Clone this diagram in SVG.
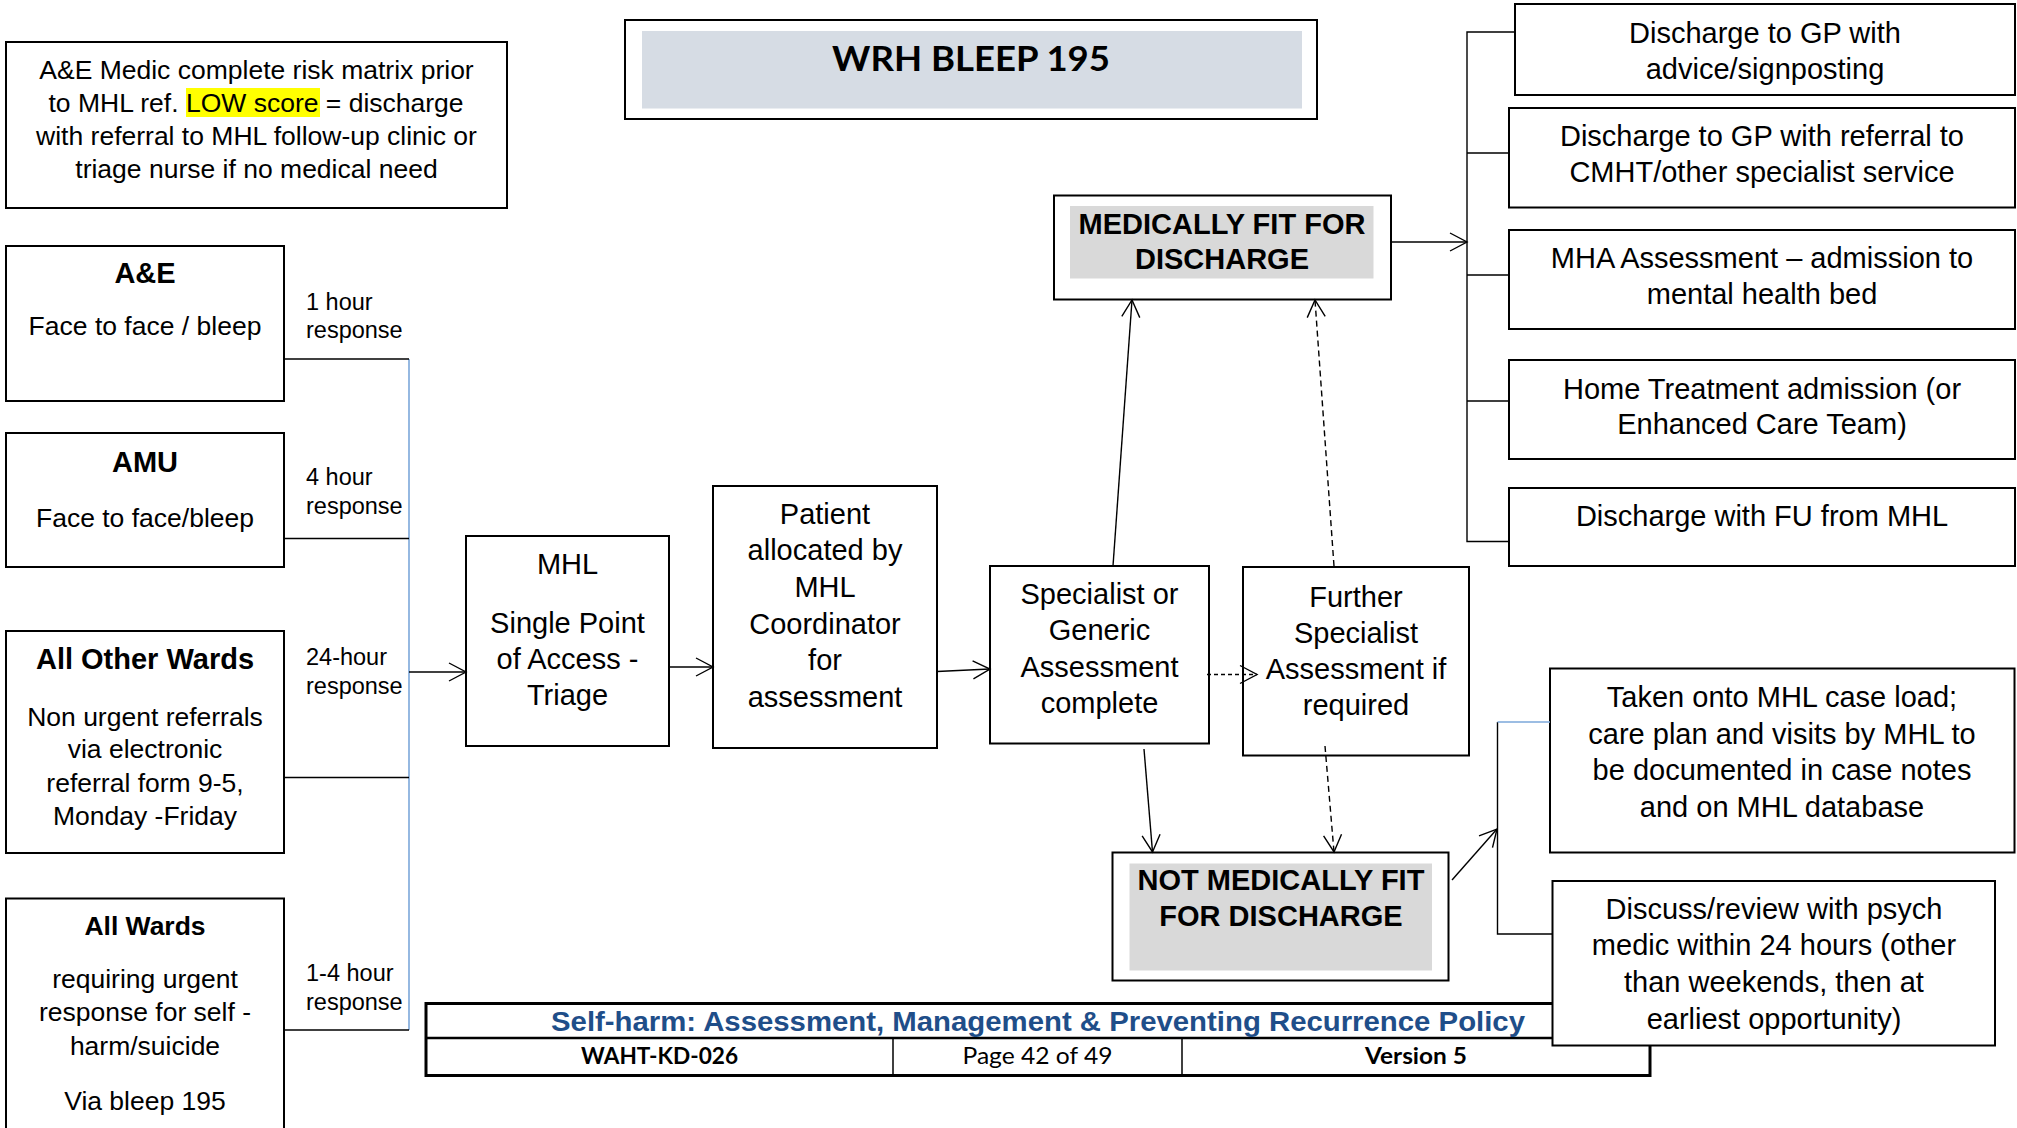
<svg xmlns="http://www.w3.org/2000/svg" width="2017" height="1128" viewBox="0 0 2017 1128">
<defs>
<style>
.box{fill:#fff;stroke:#000;stroke-width:2}
.t{font-family:"Liberation Sans",Arial,sans-serif;font-size:29px;text-anchor:middle;fill:#000}
.b{font-weight:bold}
.s26{font-size:26.5px}
.lbl{font-family:"Liberation Sans",Arial,sans-serif;font-size:23.5px;fill:#000}
.cal{font-family:Lato,"Liberation Sans",sans-serif;text-anchor:middle;fill:#000}
.conn{stroke:#000;stroke-width:1.4;fill:none}
.dash{stroke-dasharray:6 4}
.dot{stroke-dasharray:4 3}
.blue{stroke:#7BA7DA;stroke-width:1.6;fill:none}
.gray{fill:#D9D9D9;stroke:none}
</style>
<marker id="arr" markerUnits="userSpaceOnUse" markerWidth="20" markerHeight="20" refX="17" refY="9" orient="auto" overflow="visible">
<path d="M0,0 L17,9 L0,18" fill="none" stroke="#000" stroke-width="1.4" stroke-dasharray="none"/>
</marker>
</defs>
<rect width="2017" height="1128" fill="#fff"/>

<g id="footer">
<rect x="426" y="1003.5" width="1224" height="72" fill="#fff" stroke="#000" stroke-width="3"/>
<line x1="426" y1="1038" x2="1650" y2="1038" stroke="#000" stroke-width="2.5"/>
<line x1="893" y1="1038" x2="893" y2="1075" stroke="#000" stroke-width="1.5"/>
<line x1="1182" y1="1038" x2="1182" y2="1075" stroke="#000" stroke-width="1.5"/>
<text x="1038" y="1030.5" font-family="Liberation Sans, Arial, sans-serif" font-size="28" font-weight="bold" fill="#1F4E89" text-anchor="middle" textLength="974" lengthAdjust="spacingAndGlyphs">Self-harm: Assessment, Management &amp; Preventing Recurrence Policy</text>
<text class="cal b" x="659.5" y="1063.5" font-size="23" textLength="157" lengthAdjust="spacingAndGlyphs">WAHT-KD-026</text>
<text class="cal" x="1037.5" y="1063.5" font-size="24" textLength="150" lengthAdjust="spacingAndGlyphs">Page 42 of 49</text>
<text class="cal b" x="1416" y="1063.5" font-size="23" textLength="102" lengthAdjust="spacingAndGlyphs">Version 5</text>
</g>

<g id="response-labels" class="lbl">
<text x="306" y="310">1 hour</text>
<text x="306" y="338">response</text>
<text x="306" y="485">4 hour</text>
<text x="306" y="514">response</text>
<text x="306" y="665">24-hour</text>
<text x="306" y="694">response</text>
<text x="306" y="981">1-4 hour</text>
<text x="306" y="1009.5">response</text>
</g>

<g id="note">
<rect class="box" x="6" y="42" width="501" height="166"/>
<rect x="186" y="88" width="134" height="29" fill="#FFFF00"/>
<text class="t s26" x="256.5" y="79">A&amp;E Medic complete risk matrix prior</text>
<text class="t s26" x="48.5" y="112" style="text-anchor:start">to MHL ref. <tspan>LOW score</tspan> = discharge</text>
<text class="t s26" x="256.5" y="145">with referral to MHL follow-up clinic or</text>
<text class="t s26" x="256.5" y="178">triage nurse if no medical need</text>
</g>

<g id="title">
<rect class="box" x="625" y="20" width="692" height="99"/>
<rect x="642" y="31" width="660" height="77.5" fill="#D6DCE4"/>
<text class="cal b" x="971" y="70.5" font-size="34" textLength="278" lengthAdjust="spacingAndGlyphs">WRH BLEEP 195</text>
</g>

<g id="ae">
<rect class="box" x="6" y="246" width="278" height="155"/>
<text class="t b" x="145" y="283">A&amp;E</text>
<text class="t s26" x="145" y="335">Face to face / bleep</text>
</g>

<g id="amu">
<rect class="box" x="6" y="433" width="278" height="134"/>
<text class="t b" x="145" y="472" font-size="28">AMU</text>
<text class="t s26" x="145" y="527">Face to face/bleep</text>
</g>

<g id="other-wards">
<rect class="box" x="6" y="631" width="278" height="222"/>
<text class="t b" x="145" y="669">All Other Wards</text>
<text class="t s26" x="145" y="726">Non urgent referrals</text>
<text class="t s26" x="145" y="758">via electronic</text>
<text class="t s26" x="145" y="792">referral form 9-5,</text>
<text class="t s26" x="145" y="825">Monday -Friday</text>
</g>

<g id="all-wards">
<rect class="box" x="6" y="898.5" width="278" height="245"/>
<text class="t b s26" x="145" y="934.5">All Wards</text>
<text class="t s26" x="145" y="988">requiring urgent</text>
<text class="t s26" x="145" y="1021">response for self -</text>
<text class="t s26" x="145" y="1055">harm/suicide</text>
<text class="t s26" x="145" y="1110">Via bleep 195</text>
</g>

<g id="mhl">
<rect class="box" x="466" y="536" width="203" height="210"/>
<text class="t" x="567.5" y="574">MHL</text>
<text class="t" x="567.5" y="633">Single Point</text>
<text class="t" x="567.5" y="669">of Access -</text>
<text class="t" x="567.5" y="705">Triage</text>
</g>

<g id="patient">
<rect class="box" x="713" y="486" width="224" height="262"/>
<text class="t" x="825" y="524">Patient</text>
<text class="t" x="825" y="560">allocated by</text>
<text class="t" x="825" y="597">MHL</text>
<text class="t" x="825" y="633.5">Coordinator</text>
<text class="t" x="825" y="670">for</text>
<text class="t" x="825" y="707">assessment</text>
</g>

<g id="specialist">
<rect class="box" x="990" y="566" width="219" height="177.5"/>
<text class="t" x="1099.5" y="604">Specialist or</text>
<text class="t" x="1099.5" y="640">Generic</text>
<text class="t" x="1099.5" y="676.5">Assessment</text>
<text class="t" x="1099.5" y="712.5">complete</text>
</g>

<g id="further">
<rect class="box" x="1243" y="567" width="226" height="188.5"/>
<text class="t" x="1356" y="607">Further</text>
<text class="t" x="1356" y="643">Specialist</text>
<text class="t" x="1356" y="678.5">Assessment if</text>
<text class="t" x="1356" y="714.5">required</text>
</g>

<g id="medically-fit">
<rect class="box" x="1054" y="195.5" width="337" height="104"/>
<rect class="gray" x="1070" y="206" width="303.5" height="72.5"/>
<text class="t b" x="1222" y="233.5">MEDICALLY FIT FOR</text>
<text class="t b" x="1222" y="268.5">DISCHARGE</text>
</g>

<g id="not-medically-fit">
<rect class="box" x="1112.5" y="852.5" width="336" height="128"/>
<rect class="gray" x="1129.5" y="863.5" width="302.5" height="107"/>
<text class="t b" x="1281" y="890">NOT MEDICALLY FIT</text>
<text class="t b" x="1281" y="925.5">FOR DISCHARGE</text>
</g>

<g id="out-gp-advice">
<rect class="box" x="1515" y="4" width="500" height="91"/>
<text class="t" x="1765" y="43">Discharge to GP with</text>
<text class="t" x="1765" y="79">advice/signposting</text>
</g>

<g id="out-gp-cmht">
<rect class="box" x="1509" y="108" width="506" height="99.5"/>
<text class="t" x="1762" y="145.5">Discharge to GP with referral to</text>
<text class="t" x="1762" y="181.5">CMHT/other specialist service</text>
</g>

<g id="out-mha">
<rect class="box" x="1509" y="230" width="506" height="99"/>
<text class="t" x="1762" y="267.5">MHA Assessment – admission to</text>
<text class="t" x="1762" y="303.5">mental health bed</text>
</g>

<g id="out-home">
<rect class="box" x="1509" y="360" width="506" height="99"/>
<text class="t" x="1762" y="398.5">Home Treatment admission (or</text>
<text class="t" x="1762" y="434">Enhanced Care Team)</text>
</g>

<g id="out-fu">
<rect class="box" x="1509" y="488" width="506" height="78"/>
<text class="t" x="1762" y="525.5">Discharge with FU from MHL</text>
</g>

<g id="caseload">
<rect class="box" x="1550" y="668.5" width="464.5" height="184"/>
<text class="t" x="1782" y="707">Taken onto MHL case load;</text>
<text class="t" x="1782" y="743.5">care plan and visits by MHL to</text>
<text class="t" x="1782" y="780">be documented in case notes</text>
<text class="t" x="1782" y="816.5">and on MHL database</text>
</g>

<g id="connectors">
<line class="blue" x1="409" y1="359" x2="409" y2="1030"/>
<line class="conn" x1="284" y1="359" x2="409" y2="359"/>
<line class="conn" x1="284" y1="538.5" x2="409" y2="538.5"/>
<line class="conn" x1="284" y1="777.5" x2="409" y2="777.5"/>
<line class="conn" x1="284" y1="1030" x2="409" y2="1030"/>
<line class="conn" x1="409" y1="672" x2="466" y2="672" marker-end="url(#arr)"/>
<line class="conn" x1="669" y1="667" x2="713" y2="667" marker-end="url(#arr)"/>
<line class="conn" x1="937" y1="671.5" x2="990" y2="669" marker-end="url(#arr)"/>
<line class="conn dot" x1="1207" y1="674.5" x2="1257" y2="674.5" marker-end="url(#arr)"/>
<line class="conn" x1="1113" y1="566" x2="1132" y2="300" marker-end="url(#arr)"/>
<line class="conn dash" x1="1334" y1="566" x2="1315" y2="300" marker-end="url(#arr)"/>
<line class="conn" x1="1391" y1="242" x2="1467" y2="242" marker-end="url(#arr)"/>
<path class="conn" d="M1515,32 H1467 V541.5 H1509 M1467,153 H1509 M1467,275 H1509 M1467,401 H1509"/>
<line class="conn" x1="1144" y1="749" x2="1152.5" y2="852" marker-end="url(#arr)"/>
<line class="conn dash" x1="1325" y1="746" x2="1334" y2="852" marker-end="url(#arr)"/>
<line class="conn" x1="1452" y1="880" x2="1497" y2="829" marker-end="url(#arr)"/>
<path class="conn" d="M1497.5,722 V934 H1553"/>
<line class="blue" x1="1497.5" y1="722" x2="1550" y2="722"/>
</g>

<g id="discuss">
<rect class="box" x="1552.5" y="881" width="442.5" height="164.5"/>
<text class="t" x="1774" y="918.5">Discuss/review with psych</text>
<text class="t" x="1774" y="955">medic within 24 hours (other</text>
<text class="t" x="1774" y="992">than weekends, then at</text>
<text class="t" x="1774" y="1028.5">earliest opportunity)</text>
</g>
</svg>
